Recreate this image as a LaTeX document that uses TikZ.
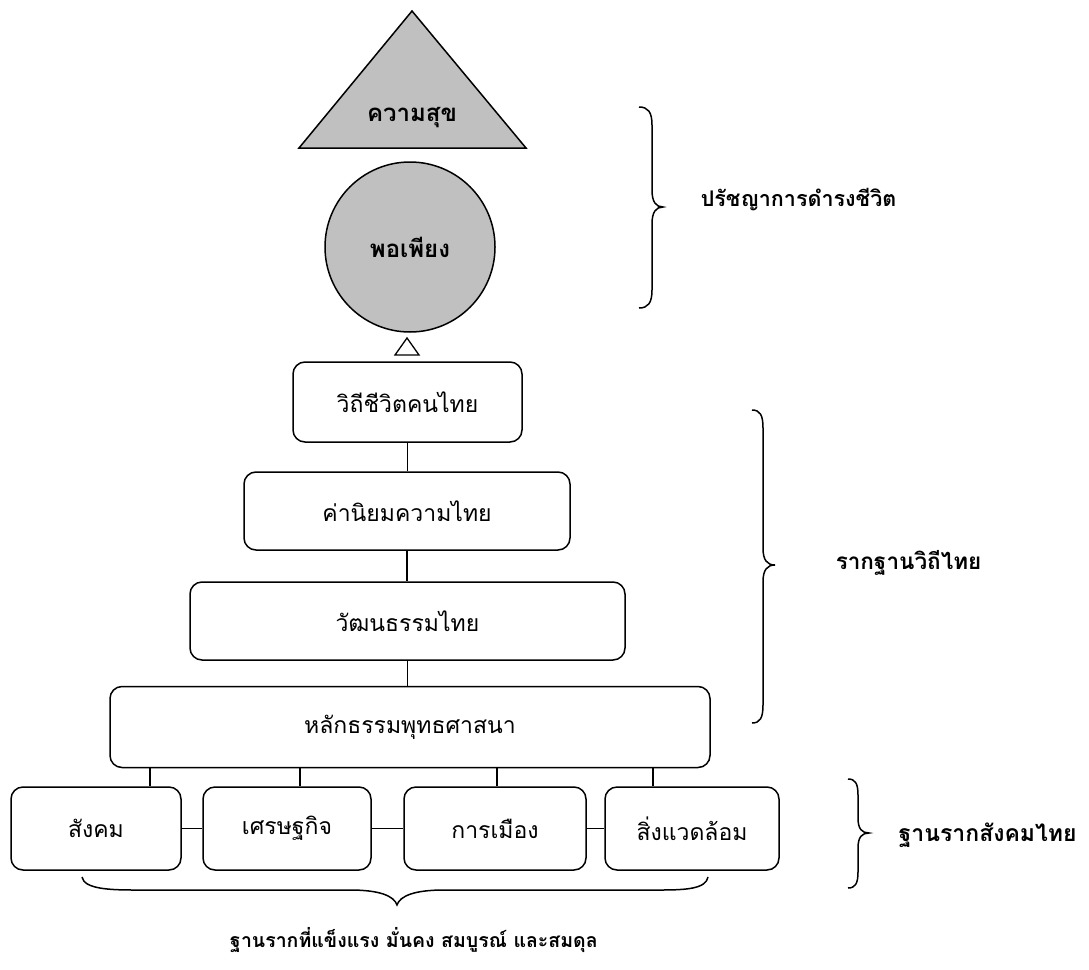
\documentclass[tikz,border=0pt]{standalone}
\usepackage{fontspec}
\setmainfont[Script=Thai]{Loma}
\usetikzlibrary{calc}
\definecolor{grayfill}{HTML}{C0C0C0}
\begin{document}
\begin{tikzpicture}[x=1pt,y=-1pt,line width=1.5pt,
  stepbox/.style={draw, rounded corners=12pt, minimum width=#1, minimum height=80pt, inner sep=0pt, font=\fontsize{23}{27}\selectfont},
  lbl/.style={font=\bfseries\fontsize{22.5}{27}\selectfont, inner sep=0pt},
  conn/.style={line width=1.6pt},
  brc/.style={line width=1.5pt}]
\useasboundingbox (0,0) rectangle (1089,969);
% top shapes
\fill[grayfill] (299,148) -- (412,11) -- (526,148) -- cycle;
\draw[line width=1.5pt, line join=miter] (299,148) -- (412,11) -- (526,148) -- cycle;
\node[lbl, font=\bfseries\fontsize{24}{28}\selectfont] (happy) at (412,118) {ความสุข};
\node[draw, circle, fill=grayfill, minimum size=170pt, inner sep=0pt, font=\bfseries\fontsize{24}{28}\selectfont] (suff) at (410,247) {พอเพียง};
\draw[line width=1.3pt] (395,355) -- (419,355) -- (407,338) -- cycle;
% stacked boxes
\node[stepbox=229pt] (b1) at (407.5,402) {วิถีชีวิตคนไทย};
\node[stepbox=326pt, minimum height=78pt] (b2) at (407,511) {ค่านิยมความไทย};
\node[stepbox=435pt, minimum height=78pt] (b3) at (407.5,621) {วัฒนธรรมไทย};
\node[stepbox=600pt, minimum height=81pt] (b4) at (410,727) {หลักธรรมพุทธศาสนา};
\draw[conn] (b1.south) -- (b1.south |- b2.north);
\draw[conn] (b2.south) -- (b2.south |- b3.north);
\draw[conn] (b3.south) -- (b3.south |- b4.north);
% bottom boxes
\node[stepbox=170pt, minimum height=83pt] (soc) at (96,828.5) {สังคม};
\node[stepbox=168pt, minimum height=83pt] (eco) at (287,828.5) {เศรษฐกิจ};
\node[stepbox=182pt, minimum height=83pt] (pol) at (495,828.5) {การเมือง};
\node[stepbox=174pt, minimum height=83pt] (env) at (692,828.5) {สิ่งแวดล้อม};
\draw[conn] (soc.east) -- (eco.west);
\draw[conn] (eco.east) -- (pol.west);
\draw[conn] (pol.east) -- (env.west);
\coordinate (t1) at (150,0);
\coordinate (t2) at (300,0);
\coordinate (t3) at (497,0);
\coordinate (t4) at (653,0);
\draw[conn] (b4.south -| t1) -- (soc.north -| t1);
\draw[conn] (b4.south -| t2) -- (eco.north -| t2);
\draw[conn] (b4.south -| t3) -- (pol.north -| t3);
\draw[conn] (b4.south -| t4) -- (env.north -| t4);
% braces
\draw[brc] (639,107) .. controls (648,107) and (652,112) .. (652,125) -- (652,190)
  .. controls (652,202) and (656,207) .. (663,207)
  .. controls (656,207) and (652,212) .. (652,224) -- (652,290)
  .. controls (652,303) and (648,308) .. (639,308);
\draw[brc] (752,410) .. controls (760,410) and (763,415) .. (763,428) -- (763,548)
  .. controls (763,560) and (767,565) .. (775,565)
  .. controls (767,565) and (763,570) .. (763,582) -- (763,705)
  .. controls (763,718) and (760,723) .. (752,723);
\draw[brc] (848,779) .. controls (855,779) and (858,783) .. (858,795) -- (858,818)
  .. controls (858,829) and (862,833) .. (869,833)
  .. controls (862,833) and (858,837) .. (858,848) -- (858,872)
  .. controls (858,884) and (855,888) .. (848,888);
\draw[brc] (82,877) .. controls (84,889) and (110,890) .. (135,890) -- (350,890)
  .. controls (380,890) and (394,896) .. (397,905)
  .. controls (400,896) and (414,890) .. (444,890) -- (660,890)
  .. controls (685,890) and (706,889) .. (708,877);
% brace labels
\node[lbl, anchor=west, font=\bfseries\fontsize{21.5}{26}\selectfont] (philo) at (700,200) {ปรัชญาการดำรงชีวิต};
\node[lbl, anchor=west] (roots) at (835,563) {รากฐานวิถีไทย};
\node[lbl, anchor=west, font=\bfseries\fontsize{23}{27}\selectfont] (found) at (898,835) {ฐานรากสังคมไทย};
\node[lbl, font=\bfseries\fontsize{19.5}{24}\selectfont] (strong) at (414,940) {ฐานรากที่แข็งแรง มั่นคง สมบูรณ์ และสมดุล};
\end{tikzpicture}
\end{document}
